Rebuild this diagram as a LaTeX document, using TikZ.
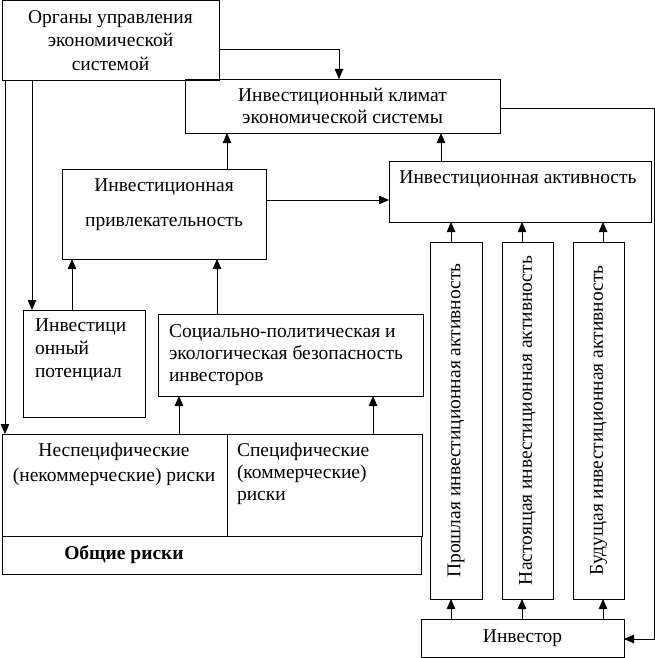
\documentclass[tikz,border=0pt]{standalone}
\usepackage{fontspec}
\setmainfont{Liberation Serif}
\usetikzlibrary{arrows.meta}
\begin{document}
\begin{tikzpicture}[x=1pt,y=-1pt,
  box/.style={draw, line width=0.8pt, rectangle, inner sep=0pt, outer sep=0pt},
  txt/.style={inner sep=0pt, outer sep=0pt, font=\fontsize{19.5}{23}\selectfont},
  arr/.style={line width=0.8pt, -{Triangle[length=10pt,width=8.5pt]}}]
\useasboundingbox (0,0) rectangle (655,658);
% boxes
\node[box, minimum width=217pt, minimum height=80pt, align=center,
      font=\fontsize{19.5}{23.5}\selectfont] (org) at (110.5,40.5)
      {Органы управления\\экономической\\системой};
\node[box, minimum width=315pt, minimum height=54pt, align=center,
      font=\fontsize{19.5}{22}\selectfont] (clim) at (342.5,106)
      {Инвестиционный климат\\экономической системы};
\node[box, minimum width=204pt, minimum height=90pt] (attr) at (164,214) {};
\node[txt, align=center, font=\fontsize{19.5}{35}\selectfont] (attrt) at (164,204.5)
      {Инвестиционная\\привлекательность};
\node[box, minimum width=262pt, minimum height=61pt] (act) at (520,191.5) {};
\node[txt] (actt) at (518,179) {Инвестиционная активность};
\node[box, minimum width=122pt, minimum height=107pt] (pot) at (84,363.5) {};
\node[txt, anchor=west, align=left] (pott) at (35,350)
      {Инвестици\\онный\\потенциал};
\node[box, minimum width=265pt, minimum height=82pt] (soc) at (290.5,355) {};
\node[txt, anchor=west, align=left, font=\fontsize{19.5}{22}\selectfont] (soct) at (169,355)
      {Социально-политическая и\\экологическая безопасность\\инвесторов};
\node[box, minimum width=225pt, minimum height=102pt] (nons) at (114.5,485) {};
\node[txt, align=center, font=\fontsize{19.5}{25}\selectfont] (nonst) at (114,464.5)
      {Неспецифические\\(некоммерческие) риски};
\node[box, minimum width=195pt, minimum height=102pt] (spec) at (324.5,485) {};
\node[txt, anchor=west, align=left, font=\fontsize{19.5}{22}\selectfont] (spect) at (237,474)
      {Специфические\\(коммерческие)\\риски};
\node[box, minimum width=419pt, minimum height=38pt] (comm) at (211.5,555) {};
\node[txt, font=\fontsize{19.5}{23}\selectfont\bfseries] (commt) at (124,555) {Общие риски};
\node[box, minimum width=52pt, minimum height=357pt] (p1) at (456,420.5) {};
\node[box, minimum width=51pt, minimum height=357pt] (p2) at (527.5,420.5) {};
\node[box, minimum width=51pt, minimum height=357pt] (p3) at (598.5,420.5) {};
\node[txt, rotate=90] (p1t) at (p1.center) {Прошлая инвестиционная активность};
\node[txt, rotate=90] (p2t) at (p2.center) {Настоящая инвестиционная активность};
\node[txt, rotate=90] (p3t) at (p3.center) {Будущая инвестиционная активность};
\node[box, minimum width=203pt, minimum height=38pt,
      font=\fontsize{19.5}{23}\selectfont] (inv) at (522.5,638) {Инвестор};
% connectors
\draw[arr] (org.east |- 0,49) -| (339,0 |- clim.north);
\draw[arr] (32,0 |- org.south) -- (32,0 |- pot.north);
\draw[arr] (5,0 |- org.south) -- (5,0 |- nons.north);
\draw[arr] (clim.east |- 0,108) -| (654,639) -- (inv.east |- 0,639);
\draw[arr] (227,0 |- attr.north) -- (227,0 |- clim.south);
\draw[arr] (attr.east |- 0,200) -- (act.west |- 0,200);
\draw[arr] (441,0 |- act.north) -- (441,0 |- clim.south);
\draw[arr] (72,0 |- pot.north) -- (72,0 |- attr.south);
\draw[arr] (217,0 |- soc.north) -- (217,0 |- attr.south);
\draw[arr] (179,0 |- nons.north) -- (179,0 |- soc.south);
\draw[arr] (373,0 |- spec.north) -- (373,0 |- soc.south);
\draw[arr] (451,0 |- p1.north) -- (451,0 |- act.south);
\draw[arr] (522,0 |- p2.north) -- (522,0 |- act.south);
\draw[arr] (603,0 |- p3.north) -- (603,0 |- act.south);
\draw[arr] (451,0 |- inv.north) -- (451,0 |- p1.south);
\draw[arr] (522,0 |- inv.north) -- (522,0 |- p2.south);
\draw[arr] (603,0 |- inv.north) -- (603,0 |- p3.south);
\end{tikzpicture}
\end{document}
